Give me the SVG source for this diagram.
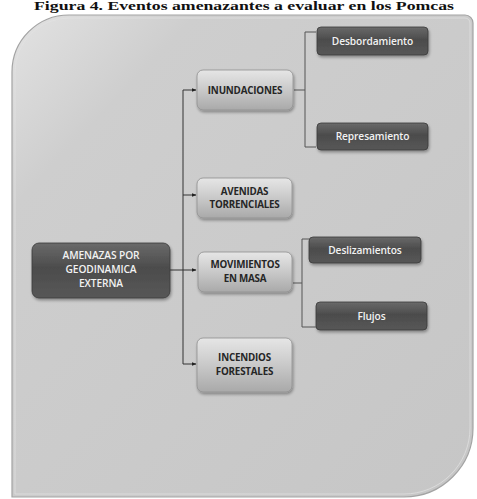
<svg xmlns="http://www.w3.org/2000/svg" width="477" height="499" viewBox="0 0 477 499">
  <defs>
    <linearGradient id="panelGrad" x1="0" y1="0" x2="1" y2="1">
      <stop offset="0" stop-color="#e2e2e2"/>
      <stop offset="0.2" stop-color="#cecece"/>
      <stop offset="1" stop-color="#c6c6c6"/>
    </linearGradient>
    <linearGradient id="lightGrad" x1="0" y1="0" x2="0" y2="1">
      <stop offset="0" stop-color="#e6e6e6"/>
      <stop offset="0.5" stop-color="#c9c9c9"/>
      <stop offset="1" stop-color="#a9a9a9"/>
    </linearGradient>
    <linearGradient id="darkGrad" x1="0" y1="0" x2="0" y2="1">
      <stop offset="0" stop-color="#6a6a6a"/>
      <stop offset="0.45" stop-color="#4c4c4c"/>
      <stop offset="1" stop-color="#575757"/>
    </linearGradient>
    <filter id="shadow" x="-10%" y="-20%" width="125%" height="150%">
      <feGaussianBlur in="SourceAlpha" stdDeviation="1.5"/>
      <feOffset dx="1" dy="2" result="b"/>
      <feComponentTransfer><feFuncA type="linear" slope="0.35"/></feComponentTransfer>
      <feMerge><feMergeNode/><feMergeNode in="SourceGraphic"/></feMerge>
    </filter>
    <marker id="arrow" viewBox="0 0 10 10" refX="9" refY="5" markerWidth="5" markerHeight="5" orient="auto">
      <path d="M0,1 L10,5 L0,9 Z" fill="#222"/>
    </marker>
  </defs>
  <style>
    .light { fill: url(#lightGrad); stroke: #8f8f8f; stroke-width: 0.8; filter: url(#shadow); }
    .dark { fill: url(#darkGrad); stroke: #3a3a3a; stroke-width: 0.8; filter: url(#shadow); }
    .lt { font-family: "Open Sans", "Liberation Sans", sans-serif; font-weight: bold; font-size: 9.8px; fill: #262626; text-anchor: middle; letter-spacing: -0.2px; }
    .dt { font-family: "Open Sans", "Liberation Sans", sans-serif; font-weight: 600; font-size: 10.2px; fill: #f2f2f2; text-anchor: middle; letter-spacing: -0.1px; }
    .conn { fill: none; stroke: #333; stroke-width: 1; }
    .brk { fill: none; stroke: #555; stroke-width: 1; }
  </style>

  <rect width="477" height="499" fill="#ffffff"/>

  <!-- caption above the panel -->
  <text x="244" y="10" font-family="Liberation Serif, serif" font-weight="bold" font-size="11.5" text-anchor="middle" textLength="420" lengthAdjust="spacingAndGlyphs" fill="#111">Figura 4. Eventos amenazantes a evaluar en los Pomcas</text>

  <!-- background panel -->
  <path d="M12,497 L12,72 A57,57 0 0 1 69,15 L465,15 A8,8 0 0 1 473,23 L473,428 A69,69 0 0 1 404,497 Z" fill="url(#panelGrad)" stroke="#a3a3a3" stroke-width="1.2"/>
  <path d="M15,494 L15,72 A54,54 0 0 1 69,18 L465,18 A5,5 0 0 1 470,23 L470,428 A66,66 0 0 1 404,494 Z" fill="none" stroke="#e2e2e2" stroke-width="1" opacity="0.7"/>

  <!-- connectors -->
  <g id="connectors">
    <line class="conn" x1="170" y1="270" x2="196" y2="270" marker-end="url(#arrow)"/>
    <line class="conn" x1="183" y1="90" x2="183" y2="364"/>
    <line class="conn" x1="183" y1="90" x2="196" y2="90" marker-end="url(#arrow)"/>
    <line class="conn" x1="183" y1="195" x2="196" y2="195" marker-end="url(#arrow)"/>
    <line class="conn" x1="183" y1="364" x2="196" y2="364" marker-end="url(#arrow)"/>
    <!-- brackets -->
    <path class="brk" d="M294,90 L305,90 M316,32 L305,32 L305,147 L316,147"/>
    <path class="brk" d="M293,283 L302,283 M309,239 L302,239 L302,327 L316,327"/>
  </g>

  <g id="amenazas">
    <rect class="dark" x="32" y="243" width="138" height="55" rx="7"/>
    <text class="dt" x="101" y="259">AMENAZAS POR</text>
    <text class="dt" x="101" y="273">GEODINAMICA</text>
    <text class="dt" x="101" y="287">EXTERNA</text>
  </g>

  <g id="inundaciones">
    <rect class="light" x="197" y="70" width="96" height="40" rx="6"/>
    <text class="lt" x="245" y="94">INUNDACIONES</text>
  </g>

  <g id="avenidas">
    <rect class="light" x="197" y="178" width="95" height="40" rx="6"/>
    <text class="lt" x="244.5" y="195">AVENIDAS</text>
    <text class="lt" x="244.5" y="208">TORRENCIALES</text>
  </g>

  <g id="movimientos">
    <rect class="light" x="198" y="252" width="94" height="40" rx="6"/>
    <text class="lt" x="245" y="268">MOVIMIENTOS</text>
    <text class="lt" x="245" y="282">EN MASA</text>
  </g>

  <g id="incendios">
    <rect class="light" x="197" y="338" width="95" height="54" rx="6"/>
    <text class="lt" x="244.5" y="361">INCENDIOS</text>
    <text class="lt" x="244.5" y="375">FORESTALES</text>
  </g>

  <g id="desbordamiento">
    <rect class="dark" x="317" y="27" width="111" height="28" rx="4"/>
    <text class="dt" x="372.5" y="44.5">Desbordamiento</text>
  </g>

  <g id="represamiento">
    <rect class="dark" x="317" y="123" width="111" height="27" rx="4"/>
    <text class="dt" x="372.5" y="140">Represamiento</text>
  </g>

  <g id="deslizamientos">
    <rect class="dark" x="309" y="237" width="112" height="26" rx="4"/>
    <text class="dt" x="365" y="253.5">Deslizamientos</text>
  </g>

  <g id="flujos">
    <rect class="dark" x="316" y="302" width="111" height="28" rx="4"/>
    <text class="dt" x="371.5" y="319.5">Flujos</text>
  </g>
</svg>
